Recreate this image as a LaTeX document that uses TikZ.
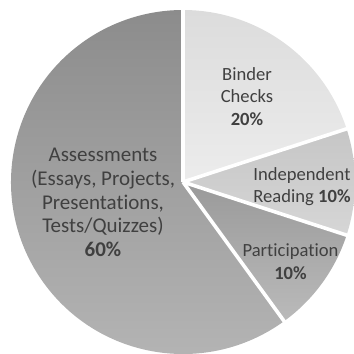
\documentclass[tikz,border=0pt]{standalone}
\usepackage{fontspec}
\setmainfont{Carlito}[Ligatures=NoCommon]
\usepackage{tikz}

\definecolor{txtgray}{HTML}{404040}
\tikzset{
  slicelabel/.style={align=center,text=txtgray,font=\fontsize{18.6}{22.6}\selectfont},
  biglabel/.style={slicelabel,font=\fontsize{21}{23.6}\selectfont},
  gapline/.style={draw=white,line width=3.6pt}
}

\begin{document}
\begin{tikzpicture}[x=1pt,y=1pt]
      \useasboundingbox (-183,-172) rectangle (171,182);
      \coordinate (c) at (0,0);

      % slices, clockwise from the top
      \shade[top color={rgb,255:red,220;green,220;blue,220},bottom color={rgb,255:red,236;green,236;blue,236}]
        (c) -- (90:172) arc (90:18:172) -- cycle;
      \shade[top color={rgb,255:red,198;green,198;blue,198},bottom color={rgb,255:red,214;green,214;blue,214}]
        (c) -- (18:172) arc (18:-18:172) -- cycle;
      \shade[top color={rgb,255:red,154;green,154;blue,154},bottom color={rgb,255:red,186;green,186;blue,186}]
        (c) -- (-18:172) arc (-18:-54:172) -- cycle;
      \shade[top color={rgb,255:red,140;green,140;blue,140},bottom color={rgb,255:red,182;green,182;blue,182}]
        (c) -- (-54:172) arc (-54:-270:172) -- cycle;

      \draw[gapline] (c) -- (90:175);
      \draw[gapline] (c) -- (18:175);
      \draw[gapline] (c) -- (-18:175);
      \draw[gapline] (c) -- (-54:175);

      \node[slicelabel] (binder) at (64,85.5) {Binder\\Checks\\\textbf{20\%}};
      \node[slicelabel] (reading) at (119,-4.5) {Independent\\Reading \textbf{10\%}};
      \node[slicelabel] (particip) at (107.5,-79.5) {Participation\\\textbf{10\%}};
      \node[biglabel] (assess) at (-80,-20.5) {Assessments\\(Essays, Projects,\\Presentations,\\Tests/Quizzes)\\\textbf{60\%}};
\end{tikzpicture}
\end{document}
